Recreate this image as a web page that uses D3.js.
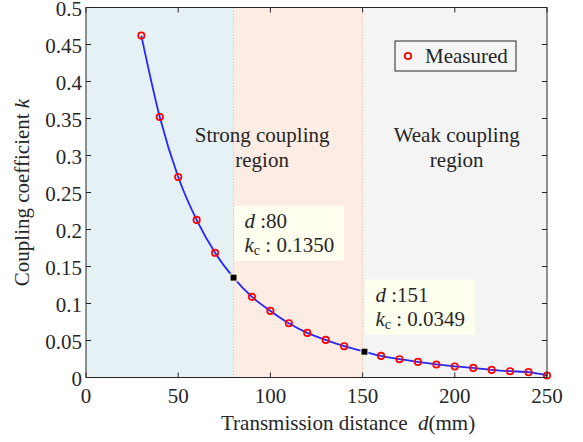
<!DOCTYPE html>
<html>
<head>
<meta charset="utf-8">
<script src="https://cdn.jsdelivr.net/npm/d3@7"></script>
<style>
  body { margin: 0; background: #fff; }
  svg text { fill: #262626; }
</style>
</head>
<body>
<svg id="chart" width="583" height="442" font-family="'Liberation Serif', 'DejaVu Serif', serif"></svg>
<script>
// Measured coupling coefficient k versus transmission distance d (mm)
const distance = [30, 40, 50, 60, 70, 90, 100, 110, 120, 130, 140, 160, 170, 180, 190, 200, 210, 220, 230, 240, 250];
const coupling = [0.462, 0.352, 0.271, 0.213, 0.1685, 0.109, 0.090, 0.0734, 0.0603, 0.0508, 0.0423,
                  0.0292, 0.0247, 0.0211, 0.0176, 0.0149, 0.0130, 0.0103, 0.0085, 0.0072, 0.0027];
// Critical points marked on the curve
const tipDistance = [80, 151];
const tipCoupling = [0.1350, 0.0349];
// Region boundaries along d and their fill colours
const regionBounds = [0, 80, 150, 250];
const regionColors = ["#e6f1f5", "#fdece3", "#f4f4f4"];
const xTicks = [0, 50, 100, 150, 200, 250];
const yTicks = [0, 0.05, 0.1, 0.15, 0.2, 0.25, 0.3, 0.35, 0.4, 0.45, 0.5];
const yTickLabels = ["0", "0.05", "0.1", "0.15", "0.2", "0.25", "0.3", "0.35", "0.4", "0.45", "0.5"];

const svg = d3.select("#chart");
const plotL = 86, plotR = 547, plotT = 7.5, plotB = 377.5;
const x = d3.scaleLinear().domain([0, 250]).range([plotL, plotR]);
const y = d3.scaleLinear().domain([0, 0.5]).range([plotB, plotT]);
const ink = "#262626";
const fs = 21;

// Background regions
const regions = d3.range(regionBounds.length - 1).map(i => ({ a: regionBounds[i], b: regionBounds[i + 1], c: regionColors[i] }));
svg.append("g").selectAll("rect").data(regions).join("rect")
  .attr("x", d => x(d.a)).attr("y", plotT)
  .attr("width", d => x(d.b) - x(d.a)).attr("height", plotB - plotT)
  .attr("fill", d => d.c);

// Dotted region boundaries
svg.append("g").selectAll("line").data(regionBounds.slice(1, -1)).join("line")
  .attr("x1", d => x(d)).attr("x2", d => x(d))
  .attr("y1", plotT).attr("y2", plotB)
  .attr("stroke", "#f2c4a6").attr("stroke-width", 1).attr("stroke-dasharray", "1.5,1.5");

// Region labels
const regionText = [
  { d: 95.5, k: 0.318, lines: ["Strong coupling", "region"] },
  { d: 201, k: 0.318, lines: ["Weak coupling", "region"] }
];
regionText.forEach(r => {
  const t = svg.append("text").attr("x", x(r.d)).attr("y", y(r.k))
    .attr("text-anchor", "middle").attr("font-size", fs);
  r.lines.forEach((s, i) => t.append("tspan").attr("x", x(r.d)).attr("dy", i ? 25 : 0).text(s));
});

// Fitted curve through measured points and marked points
const linePts = distance.map((d, i) => [d, coupling[i]])
  .concat(tipDistance.map((d, i) => [d, tipCoupling[i]]))
  .sort((a, b) => a[0] - b[0]);
svg.append("path").datum(linePts)
  .attr("d", d3.line().x(d => x(d[0])).y(d => y(d[1])).curve(d3.curveMonotoneX))
  .attr("fill", "none").attr("stroke", "#2626ff").attr("stroke-width", 1.8);

// Measured markers
svg.append("g").selectAll("circle").data(distance).join("circle")
  .attr("cx", d => x(d)).attr("cy", (d, i) => y(coupling[i])).attr("r", 3.2)
  .attr("fill", "none").attr("stroke", "#ff0000").attr("stroke-width", 1.7);

// Annotation boxes with critical values
tipDistance.forEach((d, i) => {
  const px = x(d), py = y(tipCoupling[i]);
  const bx = px + 1, by = py - 72;
  const g = svg.append("g");
  const box = g.append("rect").attr("x", bx).attr("y", by).attr("height", 55).attr("fill", "#fffff0");
  const t1 = g.append("text").attr("x", bx + 10).attr("y", by + 22).attr("font-size", fs);
  t1.append("tspan").attr("font-style", "italic").text("d");
  t1.append("tspan").text(" :" + d);
  const t2 = g.append("text").attr("x", bx + 10).attr("y", by + 46).attr("font-size", fs);
  t2.append("tspan").attr("font-style", "italic").text("k");
  t2.append("tspan").attr("font-size", 14).attr("dy", 3).text("c");
  t2.append("tspan").attr("dy", -3).text(" : " + tipCoupling[i].toFixed(4));
  const w = Math.max(t1.node().getBBox().width, t2.node().getBBox().width);
  box.attr("width", w + 20);
  svg.append("rect").attr("x", px - 3.5).attr("y", py - 3.5).attr("width", 7).attr("height", 7)
    .attr("fill", "#000").attr("stroke", "#fbfbe0").attr("stroke-width", 1);
});

// Axes box and inward ticks
const axes = svg.append("g").attr("stroke", ink).attr("stroke-width", 1).attr("fill", "none");
axes.append("rect").attr("x", plotL).attr("y", plotT).attr("width", plotR - plotL).attr("height", plotB - plotT);
xTicks.forEach(t => {
  axes.append("line").attr("x1", x(t)).attr("x2", x(t)).attr("y1", plotB).attr("y2", plotB - 5);
  axes.append("line").attr("x1", x(t)).attr("x2", x(t)).attr("y1", plotT).attr("y2", plotT + 5);
});
yTicks.forEach(t => {
  axes.append("line").attr("x1", plotL).attr("x2", plotL + 5).attr("y1", y(t)).attr("y2", y(t));
  axes.append("line").attr("x1", plotR).attr("x2", plotR - 5).attr("y1", y(t)).attr("y2", y(t));
});

// Tick labels
svg.append("g").selectAll("text").data(xTicks).join("text")
  .attr("x", d => x(d)).attr("y", 403).attr("text-anchor", "middle").attr("font-size", fs)
  .text(d => d);
svg.append("g").selectAll("text").data(yTicks).join("text")
  .attr("x", 82).attr("y", d => y(d) + 8.5).attr("text-anchor", "end").attr("font-size", fs)
  .text((d, i) => yTickLabels[i]);

// Axis titles
const xl = svg.append("text").attr("x", 221).attr("y", 430).attr("font-size", fs);
xl.append("tspan").text("Transmission distance\u00a0\u00a0");
xl.append("tspan").attr("font-style", "italic").text("d");
xl.append("tspan").text("(mm)");

const yl = svg.append("text").attr("transform", `translate(29,${(plotT + plotB) / 2}) rotate(-90)`)
  .attr("text-anchor", "middle").attr("font-size", fs);
yl.append("tspan").text("Coupling coefficient ");
yl.append("tspan").attr("font-style", "italic").text("k");

// Legend
const lg = svg.append("g");
lg.append("rect").attr("x", 395).attr("y", 41).attr("width", 121).attr("height", 30)
  .attr("fill", "#f5f5f5").attr("stroke", ink).attr("stroke-width", 1);
lg.append("circle").attr("cx", 408).attr("cy", 56).attr("r", 3.2)
  .attr("fill", "none").attr("stroke", "#ff0000").attr("stroke-width", 1.8);
lg.append("text").attr("x", 425).attr("y", 63).attr("font-size", fs).text("Measured");
</script>
</body>
</html>
